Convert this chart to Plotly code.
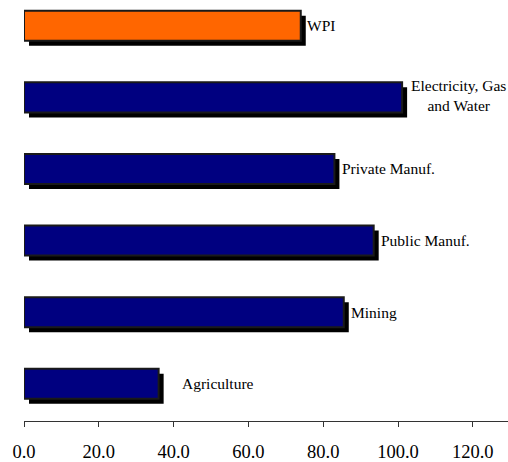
import plotly.graph_objects as go

# Data (bottom to top)
categories = ["Agriculture", "Mining", "Public Manuf.", "Private Manuf.",
              "Electricity, Gas<br>and Water", "WPI"]
values = [36.0, 85.5, 93.5, 83.0, 101.1, 74.0]
tick_values = [0, 20, 40, 60, 80, 100, 120]

# Styles
bar_colors = ["#000080"] * 5 + ["#FF6600"]
label_xshift = [18, 2, 2, 3, 4, 1]
label_yshift = [0, 0, 0, 0, 2, 0]
px_per_unit = 3.74
shadow_dx_units = 5 / px_per_unit
shadow_dy_units = 0.07
bar_w = 0.42

fig = go.Figure()

# shadow bars
fig.add_trace(go.Bar(
    y=categories, x=values, orientation="h",
    base=[shadow_dx_units] * len(values),
    width=bar_w, offset=-bar_w / 2 - shadow_dy_units,
    marker=dict(color="#000000", line=dict(width=0)),
    hoverinfo="skip", showlegend=False,
))
# front bars
fig.add_trace(go.Bar(
    y=categories, x=values, orientation="h",
    width=bar_w, offset=-bar_w / 2,
    marker=dict(color=bar_colors, line=dict(color="#1a1a1a", width=2)),
    showlegend=False,
))

for cat, val, xs, ys in zip(categories, values, label_xshift, label_yshift):
    fig.add_annotation(
        x=val + shadow_dx_units, y=cat, xref="x", yref="y",
        text=cat, showarrow=False, xanchor="left", yanchor="middle",
        align="center", xshift=xs, yshift=ys, borderpad=0, borderwidth=0,
        font=dict(family="Liberation Serif", size=15.5, color="#000000"),
    )

fig.update_layout(
    width=508, height=462,
    margin=dict(l=24, r=0, t=0, b=39),
    plot_bgcolor="white", paper_bgcolor="white",
    barmode="overlay",
    xaxis=dict(
        range=[0, 484 / px_per_unit], tickvals=tick_values,
        tickformat=".1f", showgrid=False, zeroline=False,
        showline=True, linecolor="#333333", linewidth=1,
        ticks="outside", ticklen=5, tickcolor="#333333",
        ticklabelstandoff=9,
        tickfont=dict(family="Liberation Serif", size=18.5, color="#000000"),
        fixedrange=True,
    ),
    yaxis=dict(
        type="category", categoryorder="array", categoryarray=categories,
        range=[-0.52, 5.36], showticklabels=False, showgrid=False,
        zeroline=False, showline=False, ticks="",
    ),
)

fig.write_html("out.html")
